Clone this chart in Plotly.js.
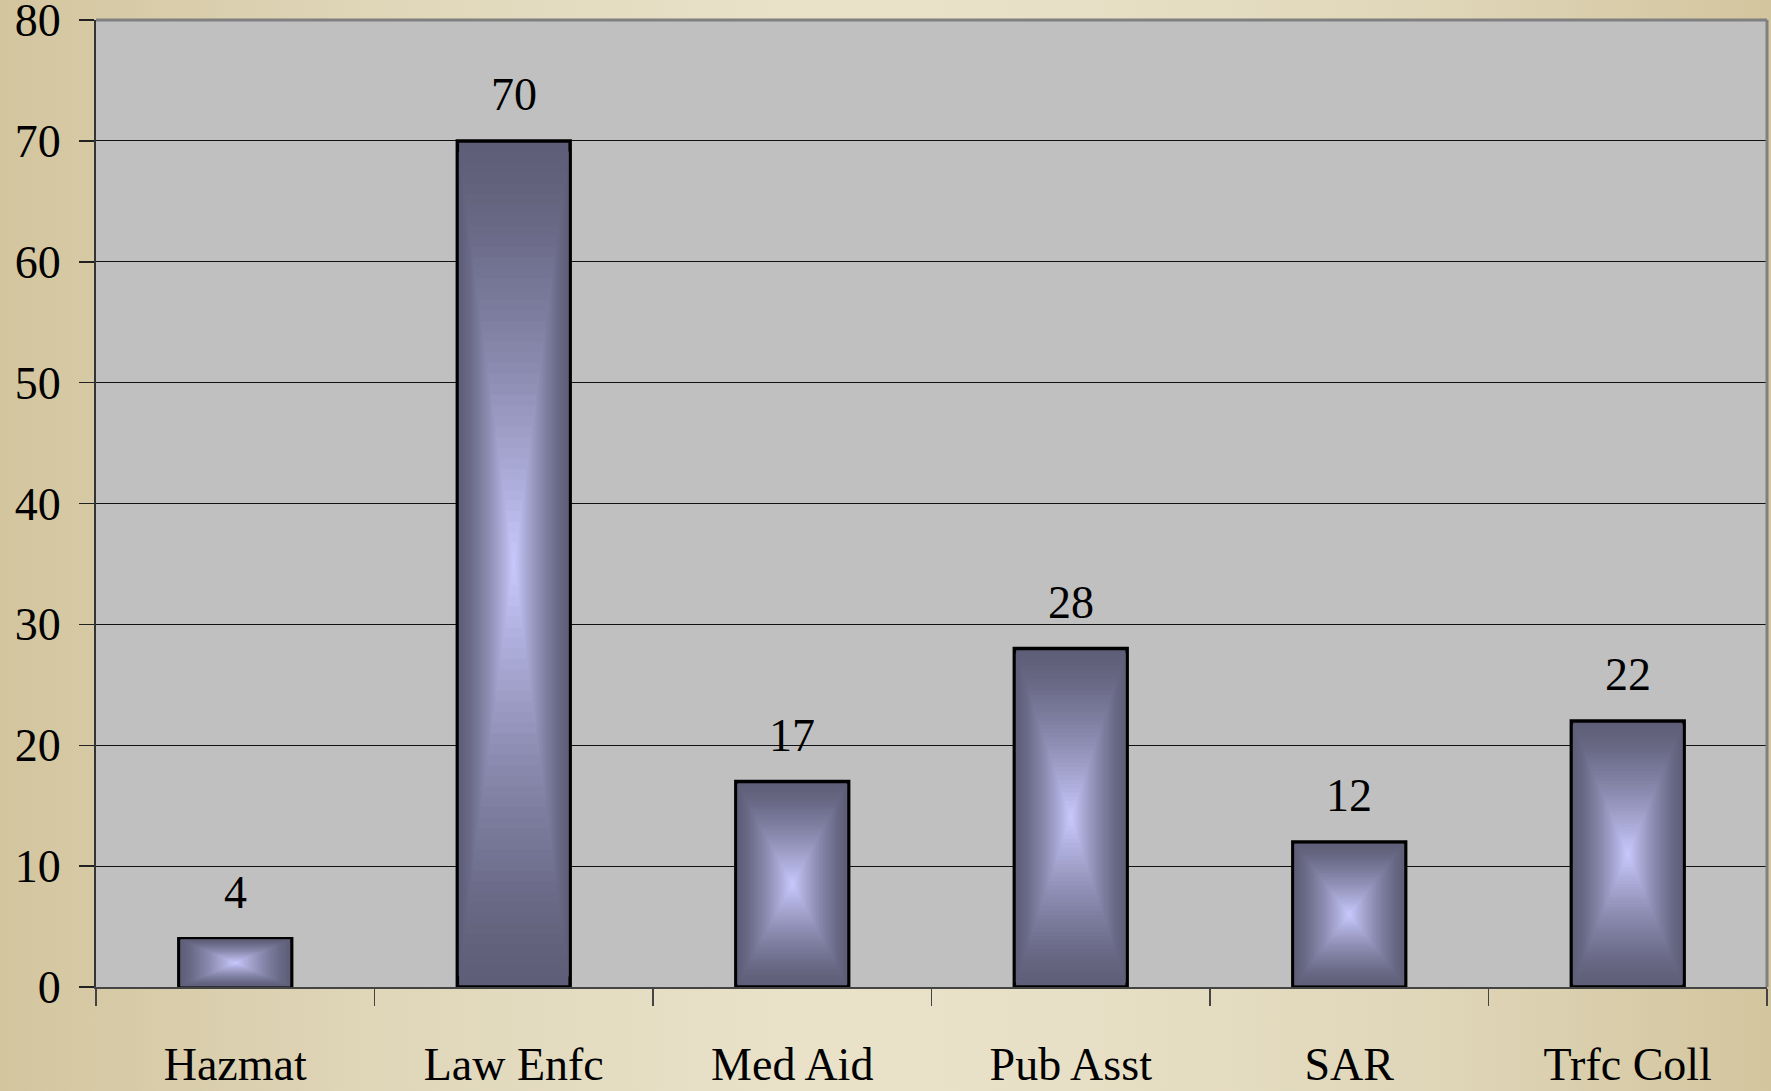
<!DOCTYPE html>
<html>
<head>
<meta charset="utf-8">
<script src="https://cdn.plot.ly/plotly-3.0.1.min.js"></script>
<style>
  html, body { margin: 0; padding: 0; }
  body {
    width: 1771px; height: 1091px; overflow: hidden;
    background: linear-gradient(to right, #d3c59e 0%, #e0d7ba 22%, #e9e2c9 45%, #e8e0c6 60%, #e0d7ba 80%, #d3c59e 100%);
  }
  #chart { width: 1771px; height: 1091px; }
</style>
</head>
<body>
<div id="chart"></div>
<script>
// ---- data ----
const categories = ['Hazmat', 'Law Enfc', 'Med Aid', 'Pub Asst', 'SAR', 'Trfc Coll'];
const values = [4, 70, 17, 28, 12, 22];
const yTickValues = [0, 10, 20, 30, 40, 50, 60, 70, 80];
const yTickLabels = ['0', '10', '20', '30', '40', '50', '60', '70', '80'];

// ---- styling ----
const BAR_W = 0.405;
const N_LAYERS = 40;
const DARK = [94, 94, 120];
const LIGHT = [202, 202, 255];
const FONT = '"Liberation Serif", "Times New Roman", serif';

function mix(t) {
  const f = Math.pow(t, 1.35);
  const c = DARK.map((d, i) => Math.round(d + (LIGHT[i] - d) * f));
  return 'rgb(' + c.join(',') + ')';
}

// Concentric layers, each computed from the data values, emulate the
// "from centre" gradient fill of each bar.
const traces = [];
for (let k = 0; k < N_LAYERS; k++) {
  const s = 1 - k / N_LAYERS;
  traces.push({
    type: 'bar',
    x: categories,
    y: values.map(v => v * s),
    base: values.map(v => v * (1 - s) / 2),
    width: categories.map(() => BAR_W * s),
    marker: {
      color: mix(k / N_LAYERS),
      line: { color: '#000000', width: k === 0 ? 3.5 : 0 }
    },
    hoverinfo: 'skip',
    showlegend: false
  });
}

const annotations = categories.map((c, i) => ({
  x: c,
  y: values[i],
  xref: 'x',
  yref: 'y',
  text: String(values[i]),
  showarrow: false,
  yanchor: 'bottom',
  yshift: 19,
  font: { family: FONT, size: 46, color: '#000000' }
}));

const layout = {
  width: 1771,
  height: 1091,
  margin: { l: 96, r: 4, t: 20, b: 104 },
  paper_bgcolor: 'rgba(0,0,0,0)',
  plot_bgcolor: '#c0c0c0',
  barmode: 'overlay',
  showlegend: false,
  font: { family: FONT, size: 46, color: '#000000' },
  xaxis: {
    type: 'category',
    tickson: 'boundaries',
    ticks: 'outside',
    ticklen: 17,
    tickwidth: 1.5,
    tickcolor: '#444444',
    showline: true,
    linecolor: '#444444',
    linewidth: 2,
    showgrid: false,
    ticklabelstandoff: 36,
    tickfont: { family: FONT, size: 46, color: '#000000' },
    fixedrange: true
  },
  yaxis: {
    range: [0, 80],
    tickvals: yTickValues,
    ticktext: yTickLabels,
    ticks: 'outside',
    ticklen: 15,
    tickwidth: 1.5,
    tickcolor: '#222222',
    showline: true,
    linecolor: '#333333',
    linewidth: 2,
    showgrid: true,
    gridcolor: '#111111',
    gridwidth: 1.2,
    zeroline: false,
    ticklabelstandoff: 9,
    ticklabeloverflow: 'allow',
    tickfont: { family: FONT, size: 46, color: '#000000' },
    fixedrange: true
  },
  shapes: [
    { type: 'line', xref: 'paper', yref: 'paper', x0: 0, x1: 1, y0: 1, y1: 1,
      line: { color: '#808080', width: 3 } },
    { type: 'line', xref: 'paper', yref: 'paper', x0: 1, x1: 1, y0: 0, y1: 1,
      line: { color: '#808080', width: 3 } }
  ],
  annotations: annotations
};

Plotly.newPlot('chart', traces, layout, { displayModeBar: false, staticPlot: true });
</script>
</body>
</html>
